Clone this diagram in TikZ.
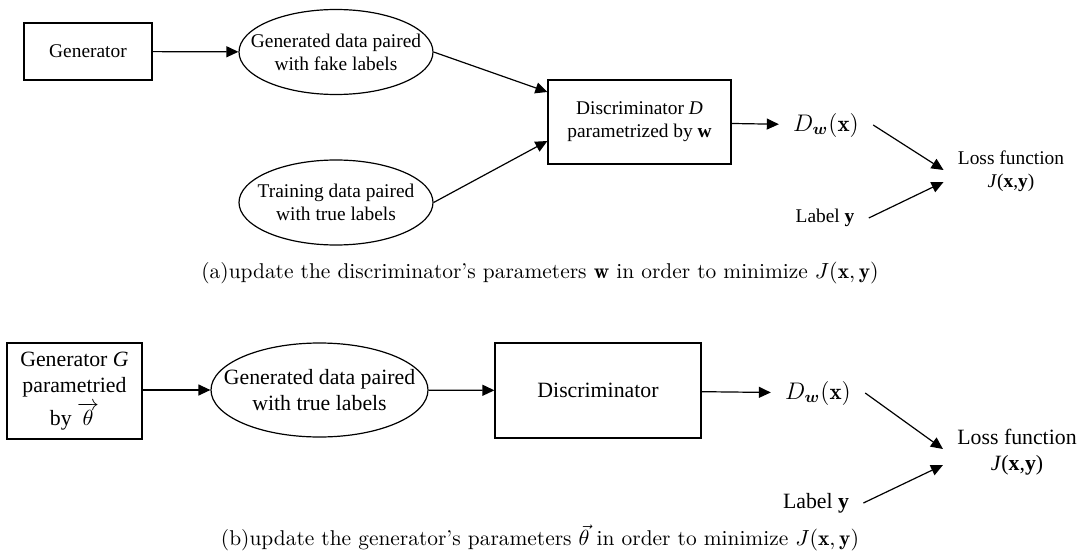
\documentclass[tikz,border=0pt]{standalone}
\usepackage{fontspec}
\usepackage{amsmath}
\usetikzlibrary{arrows.meta,shapes.geometric}
\newfontfamily\timesfont{Liberation Serif}
\tikzset{
  topfont/.style={font=\timesfont\fontsize{9.7}{11.5}\selectfont},
  botfont/.style={font=\timesfont\fontsize{10.9}{13}\selectfont},
  block/.style={draw, rectangle, align=center, line width=0.6pt, inner sep=0pt},
  data/.style={draw, ellipse, line width=0.6pt, inner sep=0pt},
  plain/.style={align=center, inner xsep=7pt},
  flow/.style={-{Triangle[length=6pt,width=5.5pt]}, line width=0.6pt},
  caption/.style={font=\fontsize{10.7}{12}\selectfont}
}
\begin{document}
\begin{tikzpicture}[x=0.5pt, y=-0.5pt]
  \useasboundingbox (0,0) rectangle (1081,557);
  % (a) discriminator step
  \node (gen) [block, topfont, minimum width=64pt, minimum height=28.5pt] at (88,51.5) {Generator};
  \node (fake) [data, minimum width=97pt, minimum height=42.5pt,
    label={[topfont, align=center]center:Generated data paired\\with fake labels}] at (336,52) {};
  \node (real) [data, minimum width=97pt, minimum height=42.5pt,
    label={[topfont, align=center]center:Training data paired\\with true labels}] at (336,202.5) {};
  \node (disc) [block, topfont, minimum width=91.5pt, minimum height=42pt] at (639.5,122) {Discriminator \textit{D}\\parametrized by \textbf{w}};
  \node (dout) [plain, font=\fontsize{11.5}{13}\selectfont] at (826,125) {$D_{\boldsymbol{w}}(\mathbf{x})$};
  \node (label) [plain, topfont] at (825,218) {Label \textbf{y}};
  \node (loss) [plain, topfont] at (1011,171) {Loss function\\\textit{J}(\textbf{x},\textbf{y})};
  \draw [flow] (gen) -- (fake);
  \draw [flow] (fake.east) -- ([yshift=15pt]disc.west);
  \draw [flow] (real.east) -- ([yshift=-9.5pt]disc.west);
  \draw [flow] (disc) -- (dout);
  \draw [flow] (dout.east) -- ([yshift=0.5pt]loss.west);
  \draw [flow] (label.east) -- ([yshift=-5.5pt]loss.west);
  \node (capa) [caption] at (540,273) {(a)update the discriminator's parameters $\mathbf{w}$ in order to minimize $J(\mathbf{x},\mathbf{y})$};
  % (b) generator step
  \node (genb) [block, botfont, minimum width=67.5pt, minimum height=48pt] at (74.5,391) {Generator \textit{G}\\parametried\\[1.5pt] by $\overrightarrow{\theta}$};
  \node (fakeb) [data, minimum width=108.5pt, minimum height=47pt,
    label={[botfont, align=center]center:Generated data paired\\with true labels}] at (319.5,390) {};
  \node (discb) [block, botfont, minimum width=103pt, minimum height=47.5pt] at (598,390.5) {Discriminator};
  \node (doutb) [plain, font=\fontsize{11.5}{13}\selectfont] at (818,393) {$D_{\boldsymbol{w}}(\mathbf{x})$};
  \node (labelb) [plain, botfont] at (816,503) {Label \textbf{y}};
  \node (lossb) [plain, botfont] at (1017,452) {Loss function\\\textit{J}(\textbf{x},\textbf{y})};
  \draw [flow] (genb.east |- fakeb.west) -- (fakeb.west);
  \draw [flow] (fakeb) -- (discb);
  \draw [flow] (discb) -- (doutb);
  \draw [flow] (doutb.east) -- ([yshift=1.5pt]lossb.west);
  \draw [flow] (labelb.east) -- ([yshift=-6.5pt]lossb.west);
  \node (capb) [caption] at (540,538) {(b)update the generator's parameters $\vec{\theta}$ in order to minimize $J(\mathbf{x},\mathbf{y})$};
\end{tikzpicture}
\end{document}
